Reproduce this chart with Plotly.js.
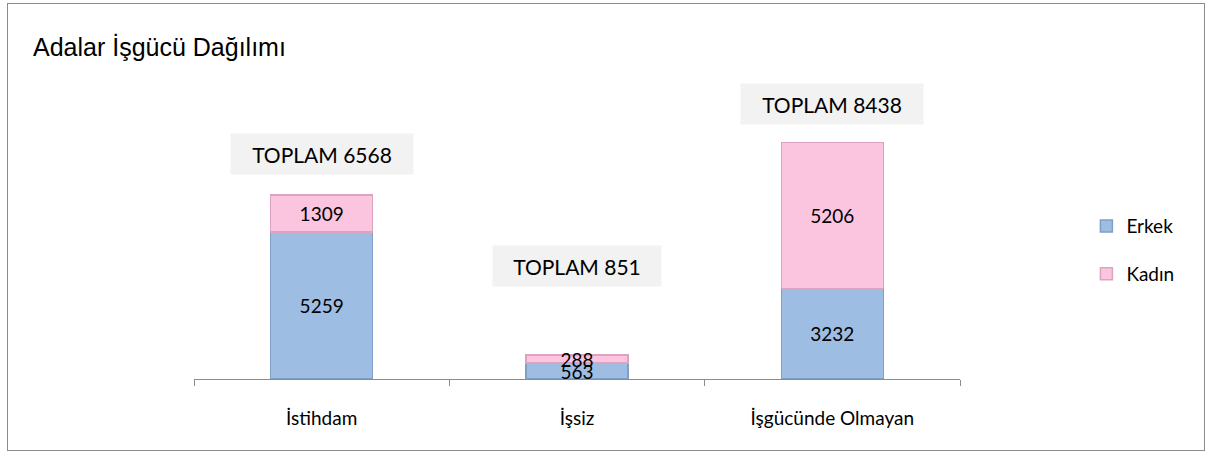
<!DOCTYPE html>
<html>
<head>
<meta charset="utf-8">
<script src="https://cdn.plot.ly/plotly-3.0.1.min.js"></script>
<style>
  html, body { margin: 0; padding: 0; background: #fff; }
  #wrap { position: relative; width: 1211px; height: 456px; }
  #chart { width: 1211px; height: 456px; }
  #frame { position: absolute; left: 7px; top: 3px; width: 1196px; height: 446px; border: 1px solid #8c8c8c; pointer-events: none; }
</style>
</head>
<body>
<div id="wrap">
  <div id="chart"></div>
  <div id="frame"></div>
</div>
<script>
const categories = ["İstihdam", "İşsiz", "İşgücünde Olmayan"];
const erkek = [5259, 563, 3232];
const kadin = [1309, 288, 5206];
const totals = [6568, 851, 8438];
const totalLabels = ["TOPLAM 6568", "TOPLAM 851", "TOPLAM 8438"];

const FONT = "Lato, 'Open Sans', sans-serif";
const labelFont = { family: FONT, size: 19, color: "#000" };

const traces = [
  {
    type: "bar", name: "Erkek", x: categories, y: erkek,
    text: erkek.map(String), textposition: "inside", insidetextanchor: "middle",
    constraintext: "none", textangle: 0, textfont: labelFont,
    marker: { color: "#9dbde3", line: { color: "#7f9fc6", width: 1.5 } },
    legendgroup: "e", hoverinfo: "skip"
  },
  {
    type: "bar", name: "Kadın", x: categories, y: kadin,
    text: kadin.map(String), textposition: "inside", insidetextanchor: "middle",
    constraintext: "none", textangle: 0, textfont: labelFont,
    marker: { color: "#fbc5e0", line: { color: "#dba3bf", width: 1.5 } },
    legendgroup: "k", hoverinfo: "skip"
  }
];

const yshifts = [41, 89, 39];
const annotations = totalLabels.map((t, i) => ({
  x: categories[i], y: totals[i], xref: "x", yref: "y",
  text: t, showarrow: false, yshift: yshifts[i],
  bgcolor: "#f2f2f2", width: t.length * 14 + 26, height: 38,
  font: { family: FONT, size: 21, color: "#000" }
}));

const layout = {
  width: 1211, height: 456,
  margin: { l: 194, r: 251, t: 99, b: 77 },
  paper_bgcolor: "#ffffff", plot_bgcolor: "#ffffff",
  barmode: "stack", bargap: 0.6,
  title: {
    text: "Adalar İşgücü Dağılımı", x: 33 / 1211, xanchor: "left",
    y: 1 - 47 / 456, yanchor: "middle",
    font: { family: "'Liberation Sans', Arial, sans-serif", size: 25, color: "#000" }
  },
  xaxis: {
    showline: true, linecolor: "#8c8c8c", linewidth: 1,
    ticks: "outside", tickson: "boundaries", ticklen: 6, tickcolor: "#8c8c8c",
    ticklabelstandoff: 22,
    tickfont: { family: FONT, size: 19, color: "#000" },
    showgrid: false, zeroline: false, fixedrange: true
  },
  yaxis: {
    range: [0, 10000], visible: false, showgrid: false, zeroline: false, fixedrange: true
  },
  showlegend: true,
  legend: {
    x: 1.165, xanchor: "left", y: 0.46, yanchor: "middle",
    traceorder: "grouped", tracegroupgap: 20,
    font: { family: FONT, size: 19, color: "#000" },
    itemwidth: 30
  },
  annotations: annotations
};

Plotly.newPlot("chart", traces, layout, { displayModeBar: false, staticPlot: true });
</script>
</body>
</html>
